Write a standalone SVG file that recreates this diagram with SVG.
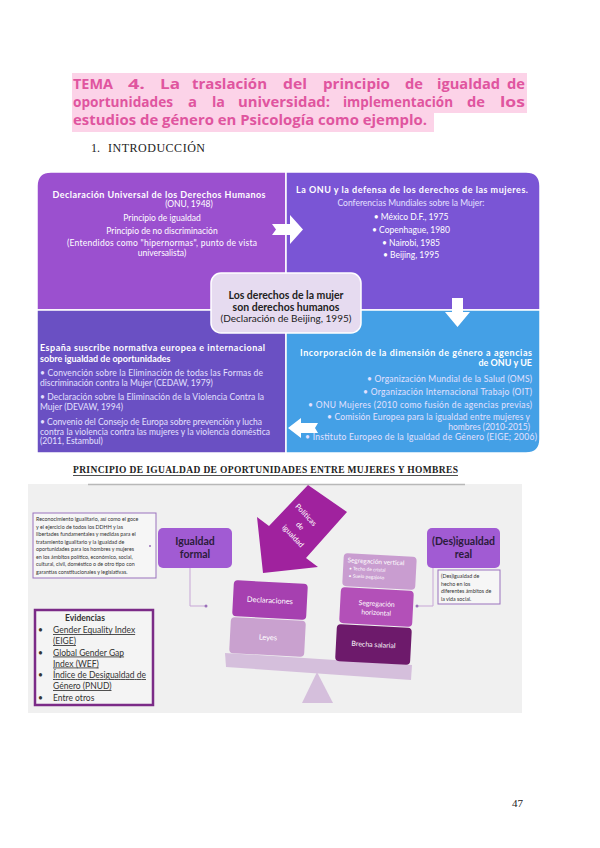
<svg xmlns="http://www.w3.org/2000/svg" width="600" height="848" viewBox="0 0 600 848">
<style>
.ti{font-family:"Open Sans","Liberation Sans",sans-serif;font-weight:700;font-size:14px;fill:#e0559f}
.sr{font-family:"Liberation Serif","DejaVu Serif",serif;fill:#222}
.g{font-family:Lato,"Open Sans","Liberation Sans",sans-serif}
.w{fill:#fff}
.b{font-weight:700}
.m{text-anchor:middle}
.e{text-anchor:end}
.q{font-size:8.5px}
.qb{font-size:9px;font-weight:700}
.lt{fill:#e4e0ff}
.tiny{font-size:5.3px;fill:#333}
.bx{fill:#f6f6f6;stroke:#9a72bd;stroke-width:1}
.con{fill:none;stroke:#c7a6d6;stroke-width:1}
.dot{fill:#9a6fb9}
.ev{font-size:8.5px;fill:#333}
</style>
<rect width="600" height="848" fill="#fff"/>

<g id="title">
<rect x="72" y="73" width="455" height="22" fill="#fcd3e8"/>
<rect x="72" y="95" width="455" height="18" fill="#fcd3e8"/>
<rect x="72" y="113" width="362" height="19" fill="#fcd3e8"/>
<g class="ti">
<text x="73" y="89" textLength="40" lengthAdjust="spacingAndGlyphs">TEMA</text>
<text x="128" y="89" textLength="17" lengthAdjust="spacingAndGlyphs">4.</text>
<text x="160" y="89" textLength="20" lengthAdjust="spacingAndGlyphs">La</text>
<text x="192" y="89" textLength="75" lengthAdjust="spacingAndGlyphs">traslación</text>
<text x="283" y="89" textLength="24" lengthAdjust="spacingAndGlyphs">del</text>
<text x="323" y="89" textLength="67" lengthAdjust="spacingAndGlyphs">principio</text>
<text x="405" y="89" textLength="18" lengthAdjust="spacingAndGlyphs">de</text>
<text x="437" y="89" textLength="63" lengthAdjust="spacingAndGlyphs">igualdad</text>
<text x="507" y="89" textLength="18" lengthAdjust="spacingAndGlyphs">de</text>
<text x="73" y="107" textLength="100" lengthAdjust="spacingAndGlyphs">oportunidades</text>
<text x="188" y="107" textLength="9" lengthAdjust="spacingAndGlyphs">a</text>
<text x="212" y="107" textLength="13" lengthAdjust="spacingAndGlyphs">la</text>
<text x="238" y="107" textLength="92" lengthAdjust="spacingAndGlyphs">universidad:</text>
<text x="343" y="107" textLength="110" lengthAdjust="spacingAndGlyphs">implementación</text>
<text x="467" y="107" textLength="18" lengthAdjust="spacingAndGlyphs">de</text>
<text x="500" y="107" textLength="25" lengthAdjust="spacingAndGlyphs">los</text>
<text x="73" y="125" textLength="354" lengthAdjust="spacingAndGlyphs">estudios de género en Psicología como ejemplo.</text>
</g>
<text class="sr" x="91" y="152" font-size="12">1.</text>
<text class="sr" x="108" y="152" font-size="12" textLength="97">INTRODUCCIÓN</text>
</g>

<g id="q-tl">
<path d="M37,310 V186 Q37,172 51,172 H286 V310 Z" fill="#9b50cf" stroke="#fff" stroke-width="1.5"/>
<text class="g w qb m" x="159" y="198" textLength="213">Declaración Universal de los Derechos Humanos</text>
<text class="g w q m" x="189" y="207">(ONU, 1948)</text>
<text class="g w q m" x="162" y="221">Principio de igualdad</text>
<text class="g w q m" x="162" y="234">Principio de no discriminación</text>
<text class="g w q m" x="162" y="246" textLength="190">(Entendidos como "hipernormas", punto de vista</text>
<text class="g w q m" x="162" y="256">universalista)</text>
</g>

<g id="q-tr">
<path d="M286,172 H526 Q540,172 540,186 V310 H286 Z" fill="#7a55d5" stroke="#fff" stroke-width="1.5"/>
<text class="g w qb m" x="412" y="193" textLength="232">La ONU y la defensa de los derechos de las mujeres.</text>
<text class="g lt q m" x="411" y="206">Conferencias Mundiales sobre la Mujer:</text>
<text class="g w q m" x="411" y="220">• México D.F., 1975</text>
<text class="g w q m" x="411" y="233">• Copenhague, 1980</text>
<text class="g w q m" x="411" y="246">• Nairobi, 1985</text>
<text class="g w q m" x="411" y="258">• Beijing, 1995</text>
</g>

<g id="q-bl">
<path d="M37,310 H286 V453 H37 Z" fill="#6a50c3" stroke="#fff" stroke-width="1.5"/>
<text class="g w qb" x="40" y="351" textLength="225">España suscribe normativa europea e internacional</text>
<text class="g w qb" x="40" y="362">sobre igualdad de oportunidades</text>
<text class="g lt q" x="40" y="376" textLength="223">• Convención sobre la Eliminación de todas las Formas de</text>
<text class="g lt q" x="40" y="386">discriminación contra la Mujer (CEDAW, 1979)</text>
<text class="g lt q" x="40" y="400" textLength="224">• Declaración sobre la Eliminación de la Violencia Contra la</text>
<text class="g lt q" x="40" y="410">Mujer (DEVAW, 1994)</text>
<text class="g lt q" x="40" y="425" textLength="222">• Convenio del Consejo de Europa sobre prevención y lucha</text>
<text class="g lt q" x="40" y="435" textLength="230">contra la violencia contra las mujeres y la violencia doméstica</text>
<text class="g lt q" x="40" y="444">(2011, Estambul)</text>
</g>

<g id="q-br">
<path d="M286,310 H540 V439 Q540,453 526,453 H286 Z" fill="#44a0e6" stroke="#fff" stroke-width="1.5"/>
<text class="g w qb e" x="532" y="356" textLength="232">Incorporación de la dimensión de género a agencias</text>
<text class="g w qb e" x="532" y="366">de ONU y UE</text>
<text class="g lt q e" x="532" y="382" textLength="165">• Organización Mundial de la Salud (OMS)</text>
<text class="g lt q e" x="532" y="395" textLength="169">• Organización Internacional Trabajo (OIT)</text>
<text class="g lt q e" x="532" y="408" textLength="224">• ONU Mujeres (2010 como fusión de agencias previas)</text>
<text class="g lt q e" x="530" y="420" textLength="203">• Comisión Europea para la igualdad entre mujeres y</text>
<text class="g lt q e" x="530" y="430">hombres (2010-2015)</text>
<text class="g lt q e" x="537" y="440" textLength="232">• Instituto Europeo de la Igualdad de Género (EIGE; 2006)</text>
</g>

<g id="center">
<rect x="211" y="273" width="150" height="60" rx="10" fill="#e6dbf0" stroke="#fff" stroke-width="1.5"/>
<text class="g b m" x="286" y="299" font-size="10.5" fill="#222">Los derechos de la mujer</text>
<text class="g b m" x="286" y="311" font-size="10.5" fill="#222">son derechos humanos</text>
<text class="g m" x="286" y="322" font-size="10" fill="#222">(Declaración de Beijing, 1995)</text>
</g>

<g id="arrows-top" fill="#fff">
<polygon points="272,224 290,224 290,215 303,229.5 290,244 290,235 272,235 276,229.5"/>
<polygon points="452,298 463,298 463,312 470,312 457.5,327 445,312 452,312"/>
<polygon points="318,423 301,423 301,418 288,428 301,438 301,433 318,433 315,428"/>
</g>

<g id="section">
<text class="sr b" x="73" y="473" font-size="9.5" textLength="385">PRINCIPIO DE IGUALDAD DE OPORTUNIDADES ENTRE MUJERES Y HOMBRES</text>
<line x1="73" y1="475.5" x2="458" y2="475.5" stroke="#222" stroke-width="0.8"/>
</g>

<g id="panel">
<rect x="28" y="484" width="494" height="229" fill="#f0f0f0"/>
<line x1="88" y1="484.5" x2="465" y2="484.5" stroke="#b8b8b8" stroke-width="1.5"/>
</g>

<g id="def-formal">
<rect class="bx" x="33" y="513" width="123" height="65"/>
<g class="g tiny">
<text x="36" y="521">Reconocimiento igualitario, así como el goce</text>
<text x="36" y="528.5">y el ejercicio de todos los DDHH y las</text>
<text x="36" y="536">libertades fundamentales y medidas para el</text>
<text x="36" y="543.5">tratamiento igualitario y la igualdad de</text>
<text x="36" y="551">oportunidades para los hombres y mujeres</text>
<text x="36" y="558.5">en los ámbitos político, económico, social,</text>
<text x="36" y="566">cultural, civil, doméstico o de otro tipo con</text>
<text x="36" y="573.5">garantías constitucionales y legislativas.</text>
</g>
</g>

<g id="formal">
<rect x="158" y="528" width="74" height="40" rx="5" fill="#a15bd3"/>
<text class="g b m" x="195" y="545" font-size="10.5" fill="#2b1b3b">Igualdad</text>
<text class="g b m" x="195" y="558" font-size="10.5" fill="#2b1b3b">formal</text>
</g>

<g id="real">
<rect x="427" y="528" width="73" height="40" rx="5" fill="#a15bd3"/>
<text class="g b m" x="463.5" y="545" font-size="10.5" fill="#2b1b3b">(Des)igualdad</text>
<text class="g b m" x="463.5" y="558" font-size="10.5" fill="#2b1b3b">real</text>
</g>

<g id="def-real">
<rect class="bx" x="438" y="570" width="62" height="34"/>
<g class="g tiny">
<text x="441" y="578">(Des)igualdad de</text>
<text x="441" y="585.5">hecho en los</text>
<text x="441" y="593">diferentes ámbitos de</text>
<text x="441" y="600.5">la vida social.</text>
</g>
</g>

<g id="connectors">
<path class="con" d="M190,568 V606 H206"/>
<circle class="dot" cx="206" cy="606" r="1.5"/>
<path class="con" d="M433,568 V606 H417"/>
<circle class="dot" cx="417" cy="606" r="1.5"/>
<circle class="dot" cx="150" cy="546" r="1"/>
</g>

<g id="politicas">
<polygon points="308,485 347,512 306,558 318,567 263,573 257,517 269,526" fill="#a0229e"/>
<g class="g w m" font-size="7.5">
<text transform="translate(306,515) rotate(47)" dy="2.5">Políticas</text>
<text transform="translate(300,526) rotate(47)" dy="2.5">de</text>
<text transform="translate(293,536) rotate(47)" dy="2.5">igualdad</text>
</g>
</g>

<g id="fulcrum">
<polygon points="317,672 333,703 302,703" fill="#d5bfdc"/>
</g>
<g id="beam">
<polygon points="225,653 412,665 411,680 226,667" fill="#d5bfdc"/>
</g>

<g id="declaraciones" transform="rotate(3 270 600)">
<rect x="233" y="582" width="74" height="36" rx="4" fill="#a640b0"/>
<text class="g w m" x="270" y="603" font-size="7.5">Declaraciones</text>
</g>
<g id="leyes" transform="rotate(3 268 637)">
<rect x="230" y="619" width="75" height="36" rx="4" fill="#c9a1cf"/>
<text class="g w m" x="268" y="640" font-size="7.5">Leyes</text>
</g>
<g id="seg-vertical" transform="rotate(3 379 571)">
<rect x="343" y="555" width="73" height="33" rx="4" fill="#c99dd0"/>
<text class="g w" x="347" y="564" font-size="6.5">Segregación vertical</text>
<text class="g w" x="349" y="571.5" font-size="4.8">• Techo de cristal</text>
<text class="g w" x="349" y="579" font-size="4.8">• Suelo pegajoso</text>
</g>
<g id="seg-horizontal" transform="rotate(3 376 607)">
<rect x="340" y="589" width="73" height="36" rx="4" fill="#b350b8"/>
<text class="g w m" x="376.5" y="606" font-size="6.8">Segregación</text>
<text class="g w m" x="376.5" y="615" font-size="6.8">horizontal</text>
</g>
<g id="brecha" transform="rotate(3 373 644)">
<rect x="336" y="626" width="75" height="37" rx="4" fill="#6d1a6b"/>
<text class="g w m" x="373.5" y="647" font-size="7">Brecha salarial</text>
</g>

<g id="evidencias">
<rect x="35" y="610" width="118" height="95" fill="#f4f4f4" stroke="#7b2b87" stroke-width="2.5"/>
<text class="g b m" x="85" y="621" font-size="8.5" fill="#333">Evidencias</text>
<g class="g ev">
<text x="38" y="633">•</text>
<text x="53" y="633" text-decoration="underline">Gender Equality Index</text>
<text x="53" y="644" text-decoration="underline">(EIGE)</text>
<text x="38" y="655.5">•</text>
<text x="53" y="655.5" text-decoration="underline">Global Gender Gap</text>
<text x="53" y="666.5" text-decoration="underline">Index (WEF)</text>
<text x="38" y="678">•</text>
<text x="53" y="678" text-decoration="underline" textLength="93">Índice de Desigualdad de</text>
<text x="53" y="689" text-decoration="underline">Género (PNUD)</text>
<text x="38" y="700.5">•</text>
<text x="53" y="700.5">Entre otros</text>
</g>
</g>

<g id="page">
<text class="sr" x="512" y="807" font-size="11">47</text>
</g>
</svg>
